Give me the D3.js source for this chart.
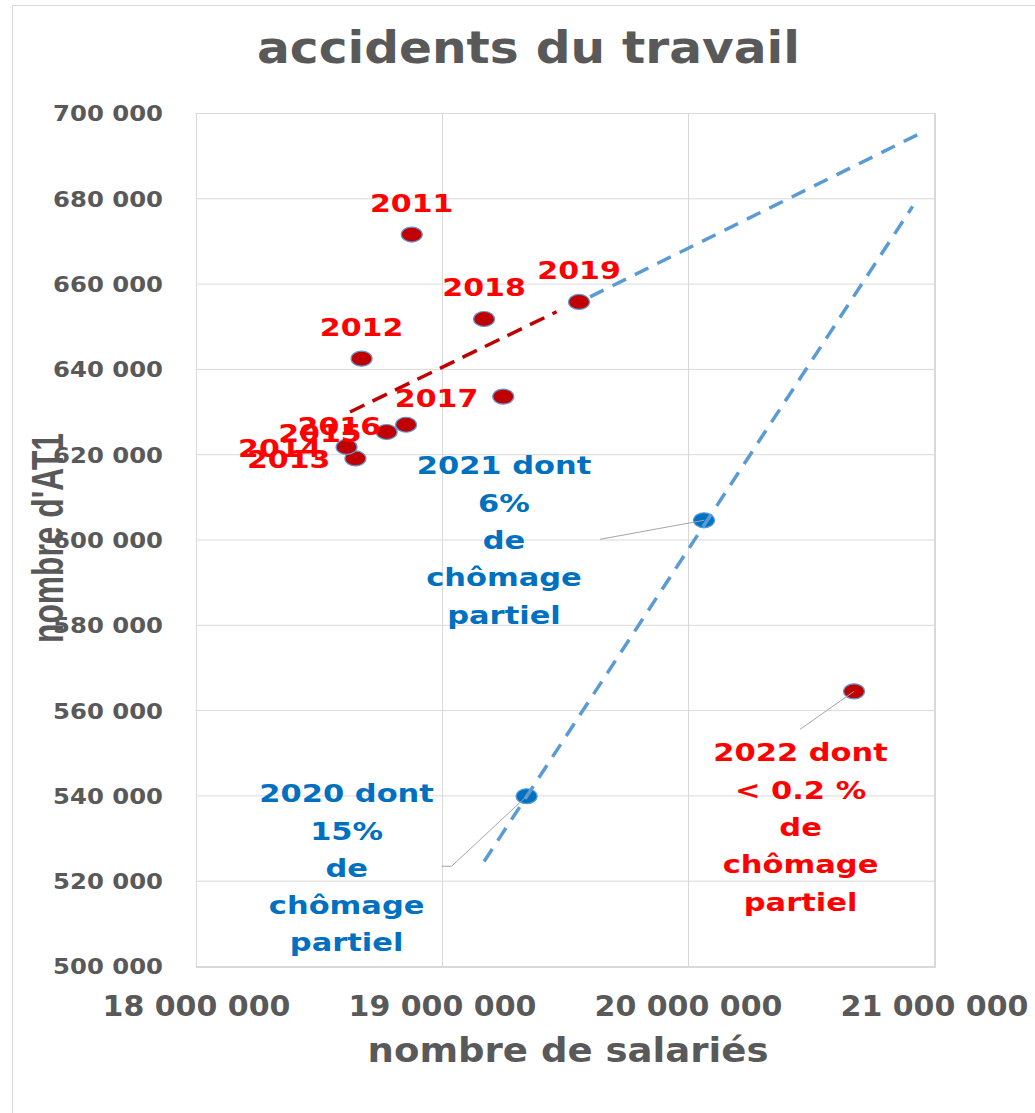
<!DOCTYPE html>
<html>
<head>
<meta charset="utf-8">
<script src="https://cdn.jsdelivr.net/npm/d3@7"></script>
<style>
body { margin: 0; background: #fff; }
svg { display: block; }
text { font-family: "DejaVu Sans", Verdana, sans-serif; font-weight: bold; }
</style>
</head>
<body>
<svg id="chart" width="1035" height="1113"></svg>
<script>
// data
const years     = ['2011', '2012', '2013', '2014', '2015', '2016', '2017', '2018', '2019', '2020', '2021', '2022']
const salaries  = [18877000, 18673000, 18648000, 18612000, 18775000, 18854000, 19249000, 19171000, 19557000, 19344000, 20065000, 20675000]
const accidents = [671500, 642400, 619000, 621700, 625200, 626900, 633500, 651700, 655700, 539800, 604500, 564400]

const xTicks = [18000000, 19000000, 20000000, 21000000]
const yTicks = [500000, 520000, 540000, 560000, 580000, 600000, 620000, 640000, 660000, 680000, 700000]

// dashed lines (start / end)
const trendRedX   = [18626000, 19466000]
const trendRedY   = [629900, 653400]
const trendBlueAX = [19602000, 20954000]
const trendBlueAY = [656900, 695500]
const trendBlueBX = [19171000, 20913000]
const trendBlueBY = [524500, 678100]

const calloutLines = {
    '2020': ['2020 dont', '15%', 'de', 'chômage', 'partiel'],
    '2021': ['2021 dont', '6%', 'de', 'chômage', 'partiel'],
    '2022': ['2022 dont', '< 0.2 %', 'de', 'chômage', 'partiel']
}
const labelSide = ['top', 'top', 'left', 'left', 'left', 'left', 'left', 'top', 'top', 'callout', 'callout', 'callout']

const chartTitle = 'accidents du travail'
const xTitle = 'nombre de salariés'
const yTitle = "nombre d'AT1"

// layout
const width = 1035
const height = 1113
const margin = {top: 113, right: 101, bottom: 147, left: 196}
const gray = '#595959'
const grid = '#d9d9d9'
const red = '#ff0000'
const darkRed = '#c00000'
const blue = '#0070c0'
const lightBlue = '#5b9bd5'

const svg = d3.select('#chart')

const x = d3.scaleLinear().domain([18000000, 21000000]).range([margin.left, width - margin.right])
const y = d3.scaleLinear().domain([500000, 700000]).range([height - margin.bottom, margin.top])

const fr = d3.formatLocale({decimal: ',', thousands: ' ', grouping: [3], currency: ['', '']})
const fmt = fr.format(',d')

const placeText = (parent, str, px, py, o) => {
    const g = parent.append('g')
    const t = g.append('text')
        .text(str)
        .attr('text-anchor', o.anchor || 'middle')
        .attr('fill', o.color)
        .style('font-size', o.size + 'px')
    if (o.family) t.style('font-family', o.family)
    const len = t.node().getComputedTextLength()
    const k = o.width ? o.width / len : (o.k || 1)
    g.attr('transform', 'translate(' + px + ',' + py + ')' + (o.rotate ? ' rotate(' + o.rotate + ')' : '') + ' scale(' + k + ',1)')
    return g
}

// outer frame
svg.append('rect')
    .attr('x', 12.5).attr('y', 5.5)
    .attr('width', 1100).attr('height', 1200)
    .attr('fill', 'none').attr('stroke', grid)

// grid
const plotW = width - margin.left - margin.right
const plotH = height - margin.top - margin.bottom
svg.append('g')
    .selectAll('line')
    .data(yTicks)
    .join('line')
    .attr('x1', margin.left).attr('x2', margin.left + plotW)
    .attr('y1', d => y(d) + 0.5).attr('y2', d => y(d) + 0.5)
    .attr('stroke', grid)
svg.append('g')
    .selectAll('line')
    .data(xTicks)
    .join('line')
    .attr('x1', d => x(d) + 0.5).attr('x2', d => x(d) + 0.5)
    .attr('y1', margin.top).attr('y2', margin.top + plotH)
    .attr('stroke', grid)
svg.append('line')
    .attr('x1', x(21000000) + 1).attr('x2', x(21000000) + 1)
    .attr('y1', margin.top).attr('y2', margin.top + plotH + 1)
    .attr('stroke', grid).attr('stroke-width', 2)
svg.append('line')
    .attr('x1', margin.left).attr('x2', margin.left + plotW + 2)
    .attr('y1', y(500000) + 1).attr('y2', y(500000) + 1)
    .attr('stroke', grid).attr('stroke-width', 2)

// axes
const yAxis = svg.append('g')
    .attr('transform', 'translate(' + margin.left + ',0)')
    .call(d3.axisLeft(y).tickValues(yTicks).tickSize(0).tickPadding(33).tickFormat(fmt))
yAxis.select('.domain').remove()
yAxis.selectAll('text')
    .attr('fill', gray)
    .style('font-size', '22px')
    .style('font-family', '"DejaVu Sans", Verdana, sans-serif')
    .attr('dy', '0.36em')
const yLabelK = 110 / yAxis.select('text').node().getComputedTextLength()
yAxis.selectAll('text')
    .attr('x', 0)
    .attr('transform', 'translate(-33,0) scale(' + yLabelK + ',1)')

const xAxis = svg.append('g')
    .attr('transform', 'translate(0,' + (height - margin.bottom) + ')')
    .call(d3.axisBottom(x).tickValues(xTicks).tickSize(0).tickPadding(30).tickFormat(fmt))
xAxis.select('.domain').remove()
xAxis.selectAll('text')
    .attr('fill', gray)
    .style('font-size', '28px')
    .style('font-family', '"DejaVu Sans", Verdana, sans-serif')
const xLabelK = 188 / xAxis.select('text').node().getComputedTextLength()
xAxis.selectAll('text').attr('transform', 'scale(' + xLabelK + ',1)')

// titles
placeText(svg, chartTitle, 528.5, 63, {size: 45, width: 543, color: gray})
placeText(svg, xTitle, 568, 1062, {size: 34, width: 401, color: gray})
placeText(svg, yTitle, 63, 538, {size: 45, width: 210, color: gray, rotate: -90, family: '"Liberation Sans", Arial, sans-serif'})

// points
const points = years.map((yr, i) => ({year: yr, s: salaries[i], a: accidents[i], side: labelSide[i]}))
const isPartial = (d) => d.year === '2020' || d.year === '2021'

// leader lines for callouts
const calloutPos = {
    '2020': {dx: -180, dy: 6, leader: [[-85, 70], [-75, 70]]},
    '2021': {dx: -200, dy: -46, leader: [[-104, 19]]},
    '2022': {dx: -53.5, dy: 70, leader: [[-54, 38]]}
}

svg.append('g')
    .selectAll('ellipse')
    .data(points)
    .join('ellipse')
    .attr('cx', d => x(d.s))
    .attr('cy', d => y(d.a))
    .attr('rx', 10.5)
    .attr('ry', 7.5)
    .attr('fill', d => isPartial(d) ? blue : darkRed)
    .attr('stroke', lightBlue)
    .attr('stroke-width', 1.2)

// dashed lines
const line = d3.line().x(d => x(d[0])).y(d => y(d[1]))
const dashed = (xs, ys, color, dash) => {
    svg.append('path')
        .attr('d', line(xs.map((v, i) => [v, ys[i]])))
        .attr('fill', 'none')
        .attr('stroke', color)
        .attr('stroke-width', 3.5)
        .attr('stroke-dasharray', dash)
}
dashed(trendRedX, trendRedY, darkRed, '16,9')
dashed(trendBlueAX, trendBlueAY, lightBlue, '15,10')
dashed(trendBlueBX, trendBlueBY, lightBlue, '15,10')

// leaders
points.filter(d => d.side === 'callout').forEach(d => {
    const px = x(d.s), py = y(d.a)
    const pts = calloutPos[d.year].leader.map(p => [px + p[0], py + p[1]])
    pts.push([px, py])
    svg.append('path')
        .attr('d', d3.line()(pts))
        .attr('fill', 'none')
        .attr('stroke', '#a6a6a6')
        .attr('stroke-width', 1)
})

// labels
const labels = svg.append('g')
points.forEach(d => {
    const px = x(d.s), py = y(d.a)
    if (d.side === 'top') {
        placeText(labels, d.year, px, py - 22.5, {size: 25, k: 1.2, color: red})
    } else if (d.side === 'left') {
        placeText(labels, d.year, px - 25, py + 10, {size: 25, k: 1.2, color: red, anchor: 'end'})
    } else {
        const c = calloutPos[d.year]
        calloutLines[d.year].forEach((str, i) => {
            placeText(labels, str, px + c.dx, py + c.dy + i * 37.3, {size: 25, k: 1.22, color: d.year === '2022' ? red : blue})
        })
    }
})
</script>
</body>
</html>
